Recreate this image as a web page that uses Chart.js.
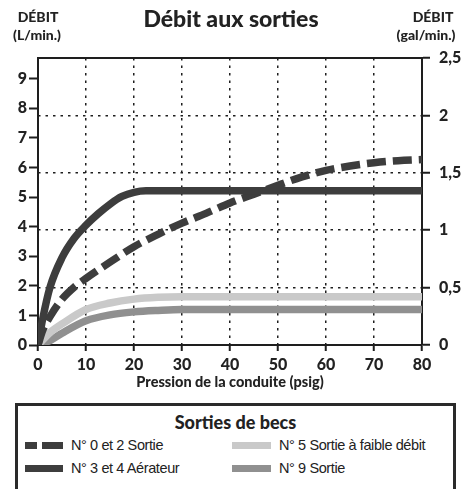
<!DOCTYPE html>
<html lang="fr">
<head>
<meta charset="utf-8">
<title>Débit aux sorties</title>
<script src="https://cdn.jsdelivr.net/npm/chart.js@4.4.1/dist/chart.umd.min.js"></script>
<style>
  html, body { margin: 0; padding: 0; background: #fff; }
  #wrap { position: relative; width: 464px; height: 489px; overflow: hidden; }
  #c { position: absolute; left: 0; top: 0; }
  #legend { position: absolute; left: 15px; top: 403px; width: 441px; height: 100px;
            border: 3px solid #2a2a2a; box-sizing: border-box; }
  #legend h3 { position: absolute; left: 0; right: 0; top: 5px; margin: 0; text-align: center;
               font: 900 18px Lato, sans-serif; color: #222; }
  .item { position: absolute; height: 20px; display: flex; align-items: center; letter-spacing: -0.4px;
          font: 14.5px "Liberation Sans", sans-serif; color: #222; white-space: nowrap; }
  .sw { display: inline-block; height: 7px; margin-right: 8px; }
</style>
</head>
<body>
<div id="wrap">
  <canvas id="c" width="464" height="400"></canvas>
  <div id="legend"><h3 id="legTitle"></h3></div>
</div>
<script>
/* ── données ───────────────────────────────────────────────────── */
const TITRE = 'Débit aux sorties';
const TITRE_X = 'Pression de la conduite (psig)';
const LEGENDE_TITRE = 'Sorties de becs';
const NOMS = ['N° 3 et 4 Aérateur', 'N° 0 et 2 Sortie', 'N° 5 Sortie à faible débit', 'N° 9 Sortie'];

// pression (psig) / débit (L/min.)
const P_AERATEUR = [0, 1, 2.5, 5, 7.5, 10, 12.5, 15, 17.5, 20, 22.5, 25, 80];
const Q_AERATEUR = [0, 0.9, 1.95, 2.95, 3.6, 4.05, 4.43, 4.76, 5.02, 5.16, 5.21, 5.21, 5.21];
const P_SORTIE_0_2 = [0, 1, 2.5, 5, 7.5, 10, 15, 20, 25, 30, 35, 40, 45, 50, 55, 60, 65, 70, 75, 80];
const Q_SORTIE_0_2 = [0, 0.5, 0.96, 1.55, 1.95, 2.25, 2.8, 3.32, 3.74, 4.12, 4.45, 4.8, 5.1, 5.4, 5.68, 5.9, 6.05, 6.16, 6.23, 6.27];
const P_FAIBLE = [0, 2.5, 5, 10, 15, 20, 25, 30, 80];
const Q_FAIBLE = [0, 0.42, 0.71, 1.2, 1.42, 1.55, 1.61, 1.63, 1.63];
const P_SORTIE_9 = [0, 2.5, 5, 10, 15, 20, 25, 30, 80];
const Q_SORTIE_9 = [0, 0.15, 0.4, 0.82, 1.02, 1.12, 1.17, 1.2, 1.2];

const X_MIN = 0, X_MAX = 80, X_STEP = 10;
const L_MAX = 9.7, L_STEP = 1;       // axe gauche (L/min.)
const GAL_MAX = 2.5, GAL_STEP = 0.5; // axe droit (gal/min.)

/* ── styles ─────────────────────────────────────────────────────── */
const DARK = '#3d3d3d';
const LIGHT = '#c9c9c9';
const MID = '#909090';
const INK = '#1e1e1e';
const TICK_FONT = { family: 'Lato', weight: '900', size: 16 };

const pts = (xs, ys) => xs.map((x, i) => ({ x, y: ys[i] }));

const line = (label, data, color, extra) => Object.assign({
  label, data, borderColor: color, backgroundColor: color,
  borderWidth: 7.5, pointRadius: 0, fill: false,
  cubicInterpolationMode: 'monotone', borderCapStyle: 'butt', yAxisID: 'y'
}, extra || {});

const hideEdges = (lo, hi) => c => (c.tick && (c.tick.value === lo || c.tick.value === hi)) ? 'rgba(0,0,0,0)' : INK;

const texts = {
  id: 'texts',
  afterDraw(chart) {
    const { ctx, chartArea: a } = chart;
    ctx.save();
    ctx.strokeStyle = INK; ctx.lineWidth = 2;
    ctx.beginPath(); ctx.moveTo(a.left - 1, a.top); ctx.lineTo(a.right + 1, a.top); ctx.stroke();
    ctx.fillStyle = '#222';
    ctx.textAlign = 'center'; ctx.textBaseline = 'middle';
    ctx.font = '900 23px Lato';
    ctx.fillText(TITRE, 231, 20);
    ctx.font = '900 14px Lato';
    ctx.fillText('DÉBIT', 38, 17);
    ctx.fillText('(L/min.)', 37, 35);
    ctx.fillText('DÉBIT', 433, 17);
    ctx.fillText('(gal/min.)', 426, 35);
    ctx.font = '900 14.5px Lato';
    ctx.fillText(TITRE_X, (a.left + a.right) / 2, 382);
    ctx.restore();
  }
};

new Chart(document.getElementById('c'), {
  type: 'line',
  data: {
    datasets: [
      line(NOMS[0], pts(P_AERATEUR, Q_AERATEUR), DARK),
      line(NOMS[1], pts(P_SORTIE_0_2, Q_SORTIE_0_2), DARK, { borderDash: [19, 7] }),
      line(NOMS[2], pts(P_FAIBLE, Q_FAIBLE), LIGHT),
      line(NOMS[3], pts(P_SORTIE_9, Q_SORTIE_9), MID)
    ]
  },
  options: {
    responsive: false,
    animation: false,
    layout: { padding: { top: 58, left: 0, right: 0, bottom: 0 } },
    plugins: { legend: { display: false }, tooltip: { enabled: false } },
    scales: {
      x: {
        type: 'linear', min: X_MIN, max: X_MAX,
        ticks: { stepSize: X_STEP, color: '#222', font: TICK_FONT, padding: 4, maxRotation: 0 },
        grid: { color: hideEdges(X_MIN, X_MAX), lineWidth: 1.5, tickColor: INK, tickLength: 6, tickWidth: 2 },
        border: { color: INK, width: 2, dash: [2.5, 5] },
        afterFit: s => { s.height = 55; }
      },
      y: {
        position: 'left', min: 0, max: L_MAX,
        ticks: { stepSize: L_STEP, includeBounds: false, color: '#222', font: TICK_FONT, padding: 2 },
        grid: { drawOnChartArea: false, tickColor: INK, tickLength: 9, tickWidth: 2 },
        border: { color: INK, width: 2 },
        afterFit: s => { s.width = 38; }
      },
      y2: {
        position: 'right', min: 0, max: GAL_MAX,
        ticks: { stepSize: GAL_STEP, color: '#222', font: TICK_FONT, padding: 9,
                 callback: v => String(v).replace('.', ',') },
        grid: { color: hideEdges(0, GAL_MAX), lineWidth: 1.5, tickColor: INK, tickLength: 8, tickWidth: 2 },
        border: { color: INK, width: 2, dash: [2.5, 5] },
        afterFit: s => { s.width = 42; }
      }
    }
  },
  plugins: [texts]
});

/* ── légende ────────────────────────────────────────────────────── */
const leg = document.getElementById('legend');
document.getElementById('legTitle').textContent = LEGENDE_TITRE;
const items = [
  { name: NOMS[1], left: 7, top: 29, sw: '<span class="sw" style="width:12px;background:' + DARK + ';margin-right:5px"></span><span class="sw" style="width:21px;background:' + DARK + '"></span>' },
  { name: NOMS[0], left: 7, top: 52, sw: '<span class="sw" style="width:38px;background:' + DARK + '"></span>' },
  { name: NOMS[2], left: 214, top: 29, sw: '<span class="sw" style="width:39px;background:' + LIGHT + '"></span>' },
  { name: NOMS[3], left: 214, top: 52, sw: '<span class="sw" style="width:39px;background:' + MID + '"></span>' }
];
items.forEach(it => {
  const d = document.createElement('div');
  d.className = 'item';
  d.style.left = it.left + 'px';
  d.style.top = it.top + 'px';
  d.innerHTML = it.sw;
  d.appendChild(document.createTextNode(it.name));
  leg.appendChild(d);
});
</script>
</body>
</html>
